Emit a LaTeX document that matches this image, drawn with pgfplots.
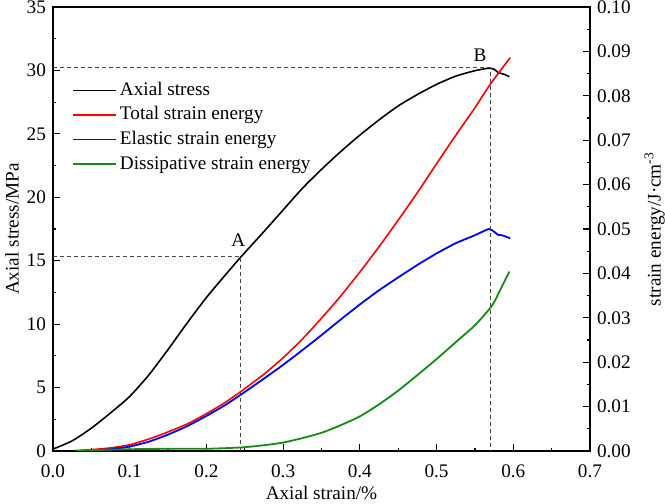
\documentclass[border=0pt]{standalone}
\usepackage{fontspec}
\setmainfont{Liberation Serif}
\usepackage{pgfplots}
\pgfplotsset{compat=1.18}
\definecolor{dashgray}{RGB}{70,70,70}
\definecolor{egreen}{RGB}{20,140,20}
\pgfplotsset{
  common/.style={
    at={(0,0)}, anchor=south west,
    scale only axis, width=268.5pt, height=222pt,
    xmin=0, xmax=0.7,
    tick align=inside,
    major tick length=3.5pt, minor tick length=1.6pt,
    every tick/.style={black, line width=0.6pt},
    axis line style={line width=0.6pt},
    tick label style={font=\fontsize{9.6}{11.5}\selectfont},
    label style={font=\fontsize{9.6}{11.5}\selectfont},
    /pgf/number format/assume math mode=true,
  }
}
\begin{document}
\begin{tikzpicture}
\useasboundingbox (-26.5pt,-26.5pt) rectangle (306pt,225.5pt);
\begin{axis}[common,
  ymin=0, ymax=35,
  xtick={0,0.1,0.2,0.3,0.4,0.5,0.6,0.7},
  ytick={0,5,10,15,20,25,30,35},
  minor x tick num=1, minor y tick num=1,
  xtick pos=bottom, ytick pos=left,
  x tick label style={yshift=-3.5pt, /pgf/number format/.cd, fixed, fixed zerofill, precision=1},
  xlabel={Axial strain/\%},
  ylabel={Axial stress/MPa},
  xlabel style={at={(axis description cs:0.5,-0.094)}, anchor=center},
  ylabel style={at={(axis description cs:-0.0764,0.5)}, anchor=center},
  legend style={at={(0.035,0.838)}, anchor=north west, draw=none, fill=none,
    inner sep=0pt, row sep=1.3pt, column sep=0.5pt,
    font=\fontsize{9.6}{11.5}\selectfont,
    nodes={inner sep=1pt, text height=7pt, text depth=2pt}},
  legend cell align=left,
  legend image code/.code={\draw[#1] (0pt,0pt) -- (21.5pt,0pt);},
]
\addplot[black, line width=0.8pt, smooth, tension=0.4] coordinates {
(0,0.15) (0.025,0.8) (0.05,1.8) (0.075,3.0) (0.1,4.3) (0.125,6.0) (0.15,8.0)
(0.175,10.1) (0.2,12.1) (0.225,13.9) (0.245,15.3) (0.275,17.3) (0.3,19.0)
(0.325,20.7) (0.35,22.2) (0.375,23.6) (0.4,24.9) (0.425,26.1) (0.45,27.2)
(0.475,28.1) (0.5,28.9) (0.525,29.55) (0.55,29.98) (0.56,30.1) (0.568,30.17)
(0.575,30.1) (0.58,29.85) (0.585,29.75) (0.59,29.65) (0.595,29.5)};
\addlegendentry{Axial stress}
\addlegendimage{red, line width=0.8pt}
\addlegendentry{Total strain energy}
\addlegendimage{blue, line width=0.9pt}
\addlegendentry{Elastic strain energy}
\addlegendimage{egreen, line width=0.9pt}
\addlegendentry{Dissipative strain energy}
\addplot[dashgray, line width=0.5pt, dash pattern=on 2pt off 1.5pt, forget plot] coordinates {(0,15.3) (0.245,15.3) (0.245,0)};
\addplot[dashgray, line width=0.5pt, dash pattern=on 2pt off 1.5pt, forget plot] coordinates {(0,30.2) (0.57,30.2) (0.57,0)};
\node[font=\fontsize{9.6}{11.5}\selectfont] at (axis cs:0.2416,16.6) {A};
\node[font=\fontsize{9.6}{11.5}\selectfont] at (axis cs:0.5567,31.2) {B};
\end{axis}
\begin{axis}[common,
  ymin=0, ymax=0.1,
  axis x line=none, axis y line*=right,
  ytick={0,0.01,0.02,0.03,0.04,0.05,0.06,0.07,0.08,0.09,0.1},
  minor y tick num=1,
  scaled y ticks=false,
  y tick label style={/pgf/number format/.cd, fixed, fixed zerofill, precision=2},
  ylabel={strain energy/J·cm\textsuperscript{-3}},
]
\addplot[red, line width=0.8pt, smooth, tension=0.4] coordinates {
(0.03,0) (0.05,0.0003) (0.075,0.0007) (0.1,0.0014) (0.125,0.0027) (0.15,0.0043)
(0.175,0.0061) (0.2,0.0084) (0.225,0.0110) (0.245,0.0134) (0.275,0.0173)
(0.3,0.0210) (0.325,0.0252) (0.35,0.0299) (0.375,0.0349) (0.4,0.0403)
(0.425,0.0460) (0.45,0.0520) (0.475,0.0582) (0.5,0.0647) (0.525,0.0711)
(0.55,0.0773) (0.57,0.0826) (0.596,0.0886)};
\addplot[blue, line width=0.9pt, smooth, tension=0.3] coordinates {
(0.03,0) (0.05,0.0001) (0.075,0.0004) (0.1,0.0010) (0.125,0.0021) (0.15,0.0037)
(0.175,0.0056) (0.2,0.0079) (0.225,0.0104) (0.245,0.0127) (0.275,0.0163)
(0.3,0.0194) (0.325,0.0227) (0.35,0.0261) (0.375,0.0296) (0.4,0.0330)
(0.425,0.0362) (0.45,0.0391) (0.475,0.0419) (0.5,0.0445) (0.525,0.0468)
(0.55,0.0486) (0.568,0.0500) (0.575,0.0494) (0.58,0.0487) (0.585,0.0486)
(0.59,0.0483) (0.596,0.0479)};
\addplot[egreen, line width=0.9pt, smooth, tension=0.4] coordinates {
(0.03,0.0001) (0.05,0.0002) (0.1,0.0004) (0.15,0.0005) (0.2,0.0005)
(0.245,0.0008) (0.275,0.0013) (0.3,0.0019) (0.325,0.0029) (0.35,0.0041)
(0.375,0.0058) (0.4,0.0078) (0.425,0.0105) (0.45,0.0136) (0.475,0.0171)
(0.5,0.0207) (0.525,0.0245) (0.55,0.0283) (0.568,0.0318) (0.575,0.0335)
(0.585,0.0370) (0.595,0.0404)};
\end{axis}
\end{tikzpicture}
\end{document}
